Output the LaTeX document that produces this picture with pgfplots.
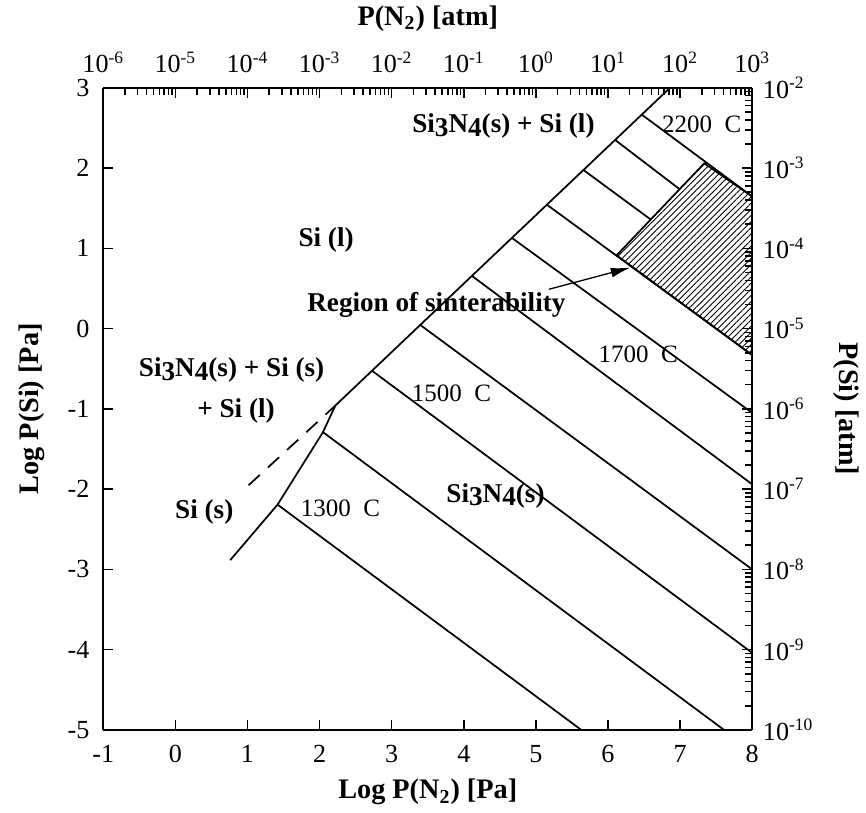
\documentclass[border=0pt]{standalone}
\usepackage{fontspec}
\setmainfont{Liberation Serif}
\usepackage{pgfplots}
\pgfplotsset{compat=1.18}
\usetikzlibrary{patterns.meta,arrows.meta}

% Si3N4 as printed in the source figure (digits on the line, a little low)
\newcommand{\sitn}{Si\raisebox{-0.3ex}{3}N\raisebox{-0.3ex}{4}}

\pgfplotsset{
  phase/.style={scale only axis, width=10.49cm, height=10.38cm,
    axis line style={line width=0.9pt},
    tick style={line width=0.7pt, black},
    major tick length=0.16cm, minor tick length=0.11cm,
    tick label style={font=\fontsize{12}{14}\selectfont},
    label style={font=\bfseries\fontsize{13}{15}\selectfont}},
  iso/.style={black, line width=0.8pt},
}

\begin{document}
\begin{tikzpicture}
\begin{axis}[phase, name=main,
  xmin=-1, xmax=8, ymin=-5, ymax=3,
  axis x line*=bottom, axis y line*=left,
  xtick={-1,0,1,2,3,4,5,6,7,8},
  xticklabels={-1,0,1,2,3,4,5,6,7,8},
  ytick={-5,-4,-3,-2,-1,0,1,2,3},
  yticklabels={-5,-4,-3,-2,-1,0,1,2,3},
  xticklabel style={yshift=-0.12cm},
  yticklabel style={xshift=-0.1cm},
  xlabel={Log P(N\textsubscript{2}) [Pa]},
  ylabel={Log P(Si) [Pa]},
  xlabel style={at={(axis description cs:0.5,-0.097)}, anchor=center},
  ylabel style={at={(axis description cs:-0.11,0.5)}, anchor=center},
]
% region of sinterability
\addplot[draw=black, line width=0.8pt,
  pattern={Lines[angle=45, distance=2pt, line width=0.4pt]}]
  coordinates {(6.12,0.913) (7.335,2.059) (8,1.646) (8,-0.33) (6.12,0.913)};

% phase boundary
\addplot[iso] coordinates {(0.761,-2.884) (1.417,-2.193) (2.047,-1.290) (2.218,-0.959) (6.86,3)};
\addplot[iso, dashed, dash pattern=on 7pt off 5pt] coordinates {(1.016,-1.951) (2.218,-0.959)};

% isotherms 1300 ... 2200 C
\addplot[iso] coordinates {(1.417,-2.193) (5.63,-5)};
\addplot[iso] coordinates {(2.047,-1.290) (7.61,-5)};
\addplot[iso] coordinates {(2.727,-0.525) (8,-4.04)};
\addplot[iso] coordinates {(3.397,0.045) (8,-3.0)};
\addplot[iso] coordinates {(4.114,0.656) (8,-1.94)};
\addplot[iso] coordinates {(4.669,1.129) (8,-1.05)};
\addplot[iso] coordinates {(5.154,1.543) (8,-0.33)};
\addplot[iso] coordinates {(5.662,1.975) (6.593,1.359)};
\addplot[iso] coordinates {(6.101,2.349) (6.994,1.737)};
\addplot[iso] coordinates {(6.471,2.665) (8,1.646)};

% pointer
\addplot[black, line width=0.6pt, -{Latex[length=9pt,width=4.5pt]}]
  coordinates {(5.18,0.49) (6.31,0.76)};

\begin{scope}[font=\bfseries\fontsize{12.5}{14}\selectfont]
\node at (axis cs:2.09,1.11) {Si (l)};
\node at (axis cs:4.55,2.52) {\sitn(s) + Si (l)};
\node at (axis cs:3.62,0.29) {Region of sinterability};
\node at (axis cs:0.78,-0.52) {\sitn(s) + Si (s)};
\node at (axis cs:0.84,-1.03) {+ Si (l)};
\node at (axis cs:4.44,-2.08) {\sitn(s)};
\node at (axis cs:0.40,-2.28) {Si (s)};
\end{scope}
\begin{scope}[font=\fontsize{11.5}{13}\selectfont]
\node at (axis cs:7.30,2.54) {2200\ \ C};
\node at (axis cs:6.42,-0.32) {1700\ \ C};
\node at (axis cs:3.83,-0.81) {1500\ \ C};
\node at (axis cs:2.29,-2.24) {1300\ \ C};
\end{scope}
\end{axis}

\begin{axis}[phase,
  xmode=log, ymode=log,
  xmin=1e-6, xmax=1e3, ymin=1e-10, ymax=1e-2,
  axis x line*=top, axis y line*=right,
  xtick={1e-6,1e-5,1e-4,1e-3,1e-2,1e-1,1,1e1,1e2,1e3},
  xticklabels={10\textsuperscript{-6},10\textsuperscript{-5},10\textsuperscript{-4},
    10\textsuperscript{-3},10\textsuperscript{-2},10\textsuperscript{-1},10\textsuperscript{0},
    10\textsuperscript{1},10\textsuperscript{2},10\textsuperscript{3}},
  ytick={1e-10,1e-9,1e-8,1e-7,1e-6,1e-5,1e-4,1e-3,1e-2},
  yticklabels={10\textsuperscript{-10},10\textsuperscript{-9},10\textsuperscript{-8},
    10\textsuperscript{-7},10\textsuperscript{-6},10\textsuperscript{-5},10\textsuperscript{-4},
    10\textsuperscript{-3},10\textsuperscript{-2}},
  xticklabel style={yshift=0.12cm},
  yticklabel style={xshift=0.05cm},
  xlabel={P(N\textsubscript{2}) [atm]},
  ylabel={P(Si) [atm]},
  xlabel style={at={(axis description cs:0.5,1.108)}, anchor=center},
  ylabel style={at={(axis description cs:1.145,0.5)}, anchor=center, rotate=180},
]
\end{axis}

\pgfresetboundingbox
\path ([xshift=-1.67cm,yshift=-1.34cm]main.south west)
  rectangle ([xshift=1.84cm,yshift=1.42cm]main.north east);
\end{tikzpicture}
\end{document}
